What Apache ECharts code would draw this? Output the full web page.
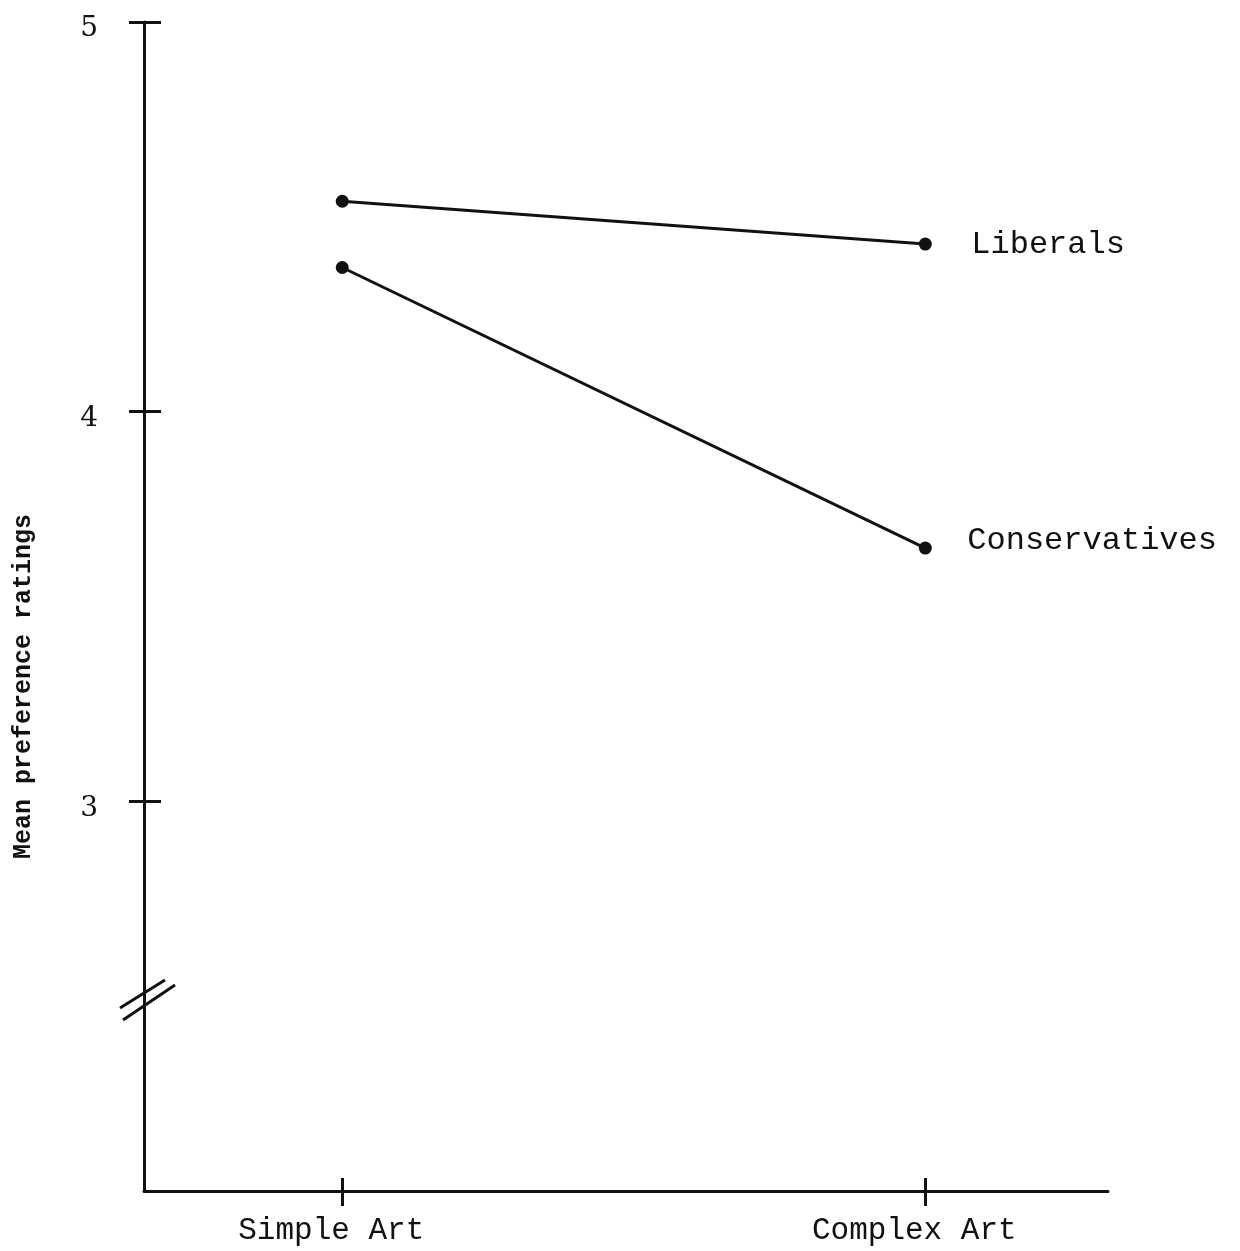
<!DOCTYPE html>
<html><head><meta charset="utf-8">
<script src="https://cdn.jsdelivr.net/npm/echarts@6/dist/echarts.min.js"></script>
<style>html,body{margin:0;padding:0;background:#fff}#c{width:1240px;height:1251px}</style>
</head><body><div id="c"></div>
<script>
// ---- data ----
const categories = ['Simple Art', 'Complex Art'];
const liberals = [4.54, 4.43];
const conservatives = [4.37, 3.65];
const yTickValues = [3, 4, 5];
const yAxisName = 'Mean preference ratings';
const seriesNames = ['Liberals', 'Conservatives'];

// ---- layout (not data) ----
const catX = [1, 4];           // where each category sits on the x scale
const breakAt = 2.49;          // where the "//" axis break mark is drawn
const ink = '#111';
const mono = '"Liberation Mono", "DejaVu Sans Mono", monospace';

const pts = vals => vals.map((v, i) => [catX[i], v]);

const chart = echarts.init(document.getElementById('c'));
const xMin = -0.02, xMax = 4.94;

const option = {
  animation: false,
  backgroundColor: '#fff',
  grid: { left: 144, right: 132, top: 22, bottom: 60 },
  xAxis: [
    {
      type: 'value', min: xMin, max: xMax, position: 'bottom',
      splitLine: { show: false },
      axisLine: { show: true, onZero: false, lineStyle: { color: ink, width: 3 } },
      axisTick: { show: true, customValues: catX, length: 15, lineStyle: { color: ink, width: 3 } },
      axisLabel: {
        customValues: catX, margin: 24,
        formatter: v => categories[catX.indexOf(Math.round(v))] || '',
        fontFamily: mono, fontSize: 31, color: ink, padding: [0, 22, 0, 0]
      }
    },
    {
      type: 'value', min: xMin, max: xMax, position: 'bottom',
      splitLine: { show: false },
      axisLine: { show: false, onZero: false },
      axisTick: { show: true, inside: true, customValues: catX, length: 13, lineStyle: { color: ink, width: 3 } },
      axisLabel: { show: false }
    }
  ],
  yAxis: [
    {
      type: 'value', min: 2, max: 5, interval: 1, position: 'left',
      splitLine: { show: false },
      axisLine: { show: true, onZero: false, lineStyle: { color: ink, width: 3 } },
      axisTick: { show: true, customValues: yTickValues, length: 15, lineStyle: { color: ink, width: 3 } },
      axisLabel: {
        customValues: yTickValues, margin: 46,
        fontFamily: '"DejaVu Serif", "Liberation Serif", serif', fontSize: 28, color: ink,
        verticalAlign: 'top', lineHeight: 14
      },
      name: yAxisName, nameLocation: 'middle', nameGap: 108,
      nameTextStyle: { fontFamily: mono, fontSize: 25, fontWeight: 'bold', color: ink, padding: [0, 160, 0, 0] }
    },
    {
      type: 'value', min: 2, max: 5, interval: 1, position: 'left',
      splitLine: { show: false },
      axisLine: { show: false, onZero: false },
      axisTick: { show: true, inside: true, customValues: yTickValues, length: 17, lineStyle: { color: ink, width: 3 } },
      axisLabel: { show: false }
    }
  ],
  series: [
    {
      name: seriesNames[0], type: 'line', data: pts(liberals),
      xAxisIndex: 0, yAxisIndex: 0,
      symbol: 'circle', symbolSize: 13,
      lineStyle: { color: ink, width: 3 }, itemStyle: { color: ink },
      endLabel: { show: true, formatter: '{a}', distance: 46, fontFamily: mono, fontSize: 32, color: ink, offset: [0, 0] }
    },
    {
      name: seriesNames[1], type: 'line', data: pts(conservatives),
      xAxisIndex: 0, yAxisIndex: 0,
      symbol: 'circle', symbolSize: 13,
      lineStyle: { color: ink, width: 3 }, itemStyle: { color: ink },
      endLabel: { show: true, formatter: '{a}', distance: 42, fontFamily: mono, fontSize: 32, color: ink, offset: [0, -8] }
    }
  ]
};
chart.setOption(option);

// axis-break decoration "//" placed through the axis scale
const p = chart.convertToPixel({ xAxisIndex: 0, yAxisIndex: 0 }, [xMin, breakAt]);
chart.setOption({
  graphic: [
    { type: 'line', shape: { x1: p[0] - 24, y1: p[1] + 8, x2: p[0] + 21, y2: p[1] - 20 }, style: { stroke: ink, lineWidth: 3 } },
    { type: 'line', shape: { x1: p[0] - 21, y1: p[1] + 20, x2: p[0] + 31, y2: p[1] - 15 }, style: { stroke: ink, lineWidth: 3 } }
  ]
});
</script>
</body></html>
